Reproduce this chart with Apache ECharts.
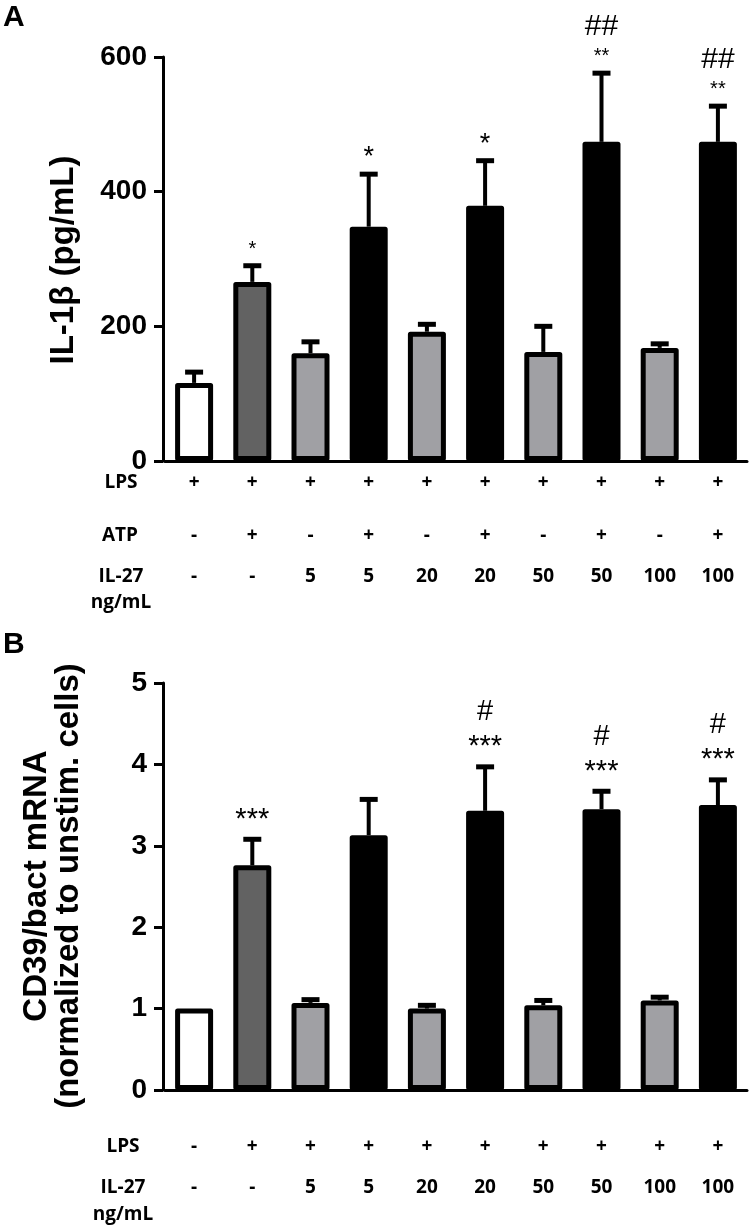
<!DOCTYPE html>
<html>
<head>
<meta charset="utf-8">
<script src="https://cdn.jsdelivr.net/npm/echarts@6/dist/echarts.min.js"></script>
<style>
  html, body { margin: 0; padding: 0; background: #fff; }
  #chart { width: 751px; height: 1226px; }
</style>
</head>
<body>
<div id="chart"></div>
<script>
// ---------- DATA ----------
const categories = ['c1', 'c2', 'c3', 'c4', 'c5', 'c6', 'c7', 'c8', 'c9', 'c10'];

// Panel A: IL-1β (pg/mL)
const il1bMean  = [116, 266, 160, 348, 192, 379, 162, 474, 168, 474];
const il1bUpper = [132, 290, 177, 426, 203, 446, 200, 576, 174, 527];
const il1bStars = ['', '*', '', '*', '', '*', '', '**', '', '**'];
const il1bHash  = ['', '', '', '', '', '', '', '##', '', '##'];
const yTicksA = { min: 0, max: 600, interval: 200 };

// Panel B: CD39/bact mRNA
const cd39Mean  = [1.0, 2.76, 1.07, 3.13, 1.0, 3.43, 1.04, 3.45, 1.1, 3.5];
const cd39Upper = [1.0, 3.08, 1.11, 3.57, 1.04, 3.97, 1.1, 3.67, 1.14, 3.81];
const cd39Stars = ['', '***', '', '', '', '***', '', '***', '', '***'];
const cd39Hash  = ['', '', '', '', '', '#', '', '#', '', '#'];
const yTicksB = { min: 0, max: 5, interval: 1 };

// Condition table rows
const lpsA  = ['+', '+', '+', '+', '+', '+', '+', '+', '+', '+'];
const atpA  = ['-', '+', '-', '+', '-', '+', '-', '+', '-', '+'];
const il27A = ['-', '-', '5', '5', '20', '20', '50', '50', '100', '100'];
const lpsB  = ['-', '+', '+', '+', '+', '+', '+', '+', '+', '+'];
const il27B = ['-', '-', '5', '5', '20', '20', '50', '50', '100', '100'];

// ---------- STYLE ----------
const fills = ['#ffffff', '#626262', '#a0a0a4', '#000000', '#a0a0a4', '#000000', '#a0a0a4', '#000000', '#a0a0a4', '#000000'];
const tickFont = { fontFamily: 'Liberation Sans, Arial, sans-serif', fontWeight: 'bold', fontSize: 28, color: '#000' };
const rowFont = { fontFamily: 'Open Sans, sans-serif', fontWeight: 'bold', fontSize: 19, color: '#000' };

const chart = echarts.init(document.getElementById('chart'), null, { renderer: 'canvas' });

function mainX(gridIndex) {
  return {
    type: 'category', gridIndex, data: categories, position: 'bottom',
    axisLine: { show: true, lineStyle: { color: '#000', width: 3 } },
    axisTick: { show: false }, axisLabel: { show: false }
  };
}
function rowX(gridIndex, row, margin) {
  return {
    type: 'category', gridIndex, data: categories, position: 'bottom',
    axisLine: { show: false }, axisTick: { show: false }, splitLine: { show: false },
    axisLabel: Object.assign({ interval: 0, margin, verticalAlign: 'middle',
      formatter: (v, i) => row[i] }, rowFont)
  };
}
function yAx(gridIndex, t) {
  return {
    type: 'value', gridIndex, min: t.min, max: t.max, interval: t.interval, offset: 2,
    axisLine: { show: true, lineStyle: { color: '#000', width: 3 } },
    axisTick: { show: true, length: 9, lineStyle: { color: '#000', width: 3 } },
    splitLine: { show: false },
    axisLabel: Object.assign({ margin: 16 }, tickFont)
  };
}
function barSeries(idx, mean) {
  return {
    type: 'bar', xAxisIndex: idx, yAxisIndex: idx, barWidth: 38, z: 3,
    data: mean.map((v, i) => ({ value: v, itemStyle: { color: fills[i] } })),
    itemStyle: { borderColor: '#000', borderWidth: 5, borderJoin: 'round' }
  };
}
function errSeries(idx, mean, upper, stars, hash, starOff, hashOff, starSizes, hashSize) {
  return {
    type: 'custom', xAxisIndex: idx, yAxisIndex: idx, z: 2,
    data: mean.map((v, i) => [i, v, upper[i]]),
    renderItem: function (params, api) {
      const i = api.value(0);
      const p0 = api.coord([i, api.value(1)]);
      const p1 = api.coord([i, api.value(2)]);
      const children = [];
      if (p0[1] - p1[1] > 1) {
        children.push({ type: 'line', shape: { x1: p0[0], y1: p0[1], x2: p1[0], y2: p1[1] },
          style: { stroke: '#000', lineWidth: 4 } });
        children.push({ type: 'line', shape: { x1: p1[0] - 9, y1: p1[1], x2: p1[0] + 9, y2: p1[1] },
          style: { stroke: '#000', lineWidth: 5 } });
      }
      const capTop = p1[1] - 2.5;
      if (stars[i]) {
        children.push({ type: 'text', style: { text: stars[i], x: p1[0], y: capTop - starOff,
          align: 'center', verticalAlign: 'middle', fill: '#000',
          font: starSizes[i] + 'px "Liberation Sans", Arial, sans-serif' } });
      }
      if (hash[i]) {
        children.push({ type: 'text', style: { text: hash[i], x: p1[0], y: capTop - hashOff,
          align: 'center', verticalAlign: 'middle', fill: '#000',
          font: hashSize + 'px "Liberation Sans", Arial, sans-serif' } });
      }
      return { type: 'group', children };
    }
  };
}

const boldName = 'bold 33px "Liberation Sans", Arial, sans-serif';
const rowTitleFont = 'bold 19px "Open Sans", sans-serif';
const letterFont = 'bold 30px "Liberation Sans", Arial, sans-serif';

const option = {
  backgroundColor: '#fff',
  animation: false,
  grid: [
    { left: 165, top: 57, width: 582, height: 404 },
    { left: 165, top: 683, width: 582, height: 407 }
  ],
  xAxis: [
    mainX(0), mainX(1),
    rowX(0, lpsA, 22), rowX(0, atpA, 75), rowX(0, il27A, 116),
    rowX(1, lpsB, 57), rowX(1, il27B, 98)
  ],
  yAxis: [yAx(0, yTicksA), yAx(1, yTicksB)],
  series: [
    errSeries(0, il1bMean, il1bUpper, il1bStars, il1bHash, 14, 44, [0, 20, 0, 27, 0, 27, 0, 20, 0, 20], 30),
    barSeries(0, il1bMean),
    errSeries(1, cd39Mean, cd39Upper, cd39Stars, cd39Hash, 17, 52, [0, 29, 0, 29, 0, 29, 0, 29, 0, 29], 29),
    barSeries(1, cd39Mean)
  ],
  graphic: [
    { type: 'text', left: 3, top: 3, style: { text: 'A', font: letterFont, fill: '#000' } },
    { type: 'text', left: 3, top: 630, style: { text: 'B', font: letterFont, fill: '#000' } },
    { type: 'text', x: 64, y: 260, rotation: Math.PI / 2,
      style: { text: 'IL-1β (pg/mL)', font: boldName, fill: '#000', align: 'center', verticalAlign: 'middle' } },
    { type: 'text', x: 53, y: 886, rotation: Math.PI / 2,
      style: { text: 'CD39/bact mRNA\n(normalized to unstim. cells)', font: boldName, lineHeight: 32,
        fill: '#000', align: 'center', verticalAlign: 'middle' } },
    { type: 'text', x: 121, y: 483, style: { text: 'LPS', font: rowTitleFont, fill: '#000', align: 'center', verticalAlign: 'middle' } },
    { type: 'text', x: 120, y: 536, style: { text: 'ATP', font: rowTitleFont, fill: '#000', align: 'center', verticalAlign: 'middle' } },
    { type: 'text', x: 121, y: 590, style: { text: 'IL-27\nng/mL', font: rowTitleFont, lineHeight: 26, fill: '#000', align: 'center', verticalAlign: 'middle' } },
    { type: 'text', x: 123, y: 1147, style: { text: 'LPS', font: rowTitleFont, fill: '#000', align: 'center', verticalAlign: 'middle' } },
    { type: 'text', x: 123, y: 1201, style: { text: 'IL-27\nng/mL', font: rowTitleFont, lineHeight: 27, fill: '#000', align: 'center', verticalAlign: 'middle' } }
  ]
};
chart.setOption(option);
</script>
</body>
</html>
